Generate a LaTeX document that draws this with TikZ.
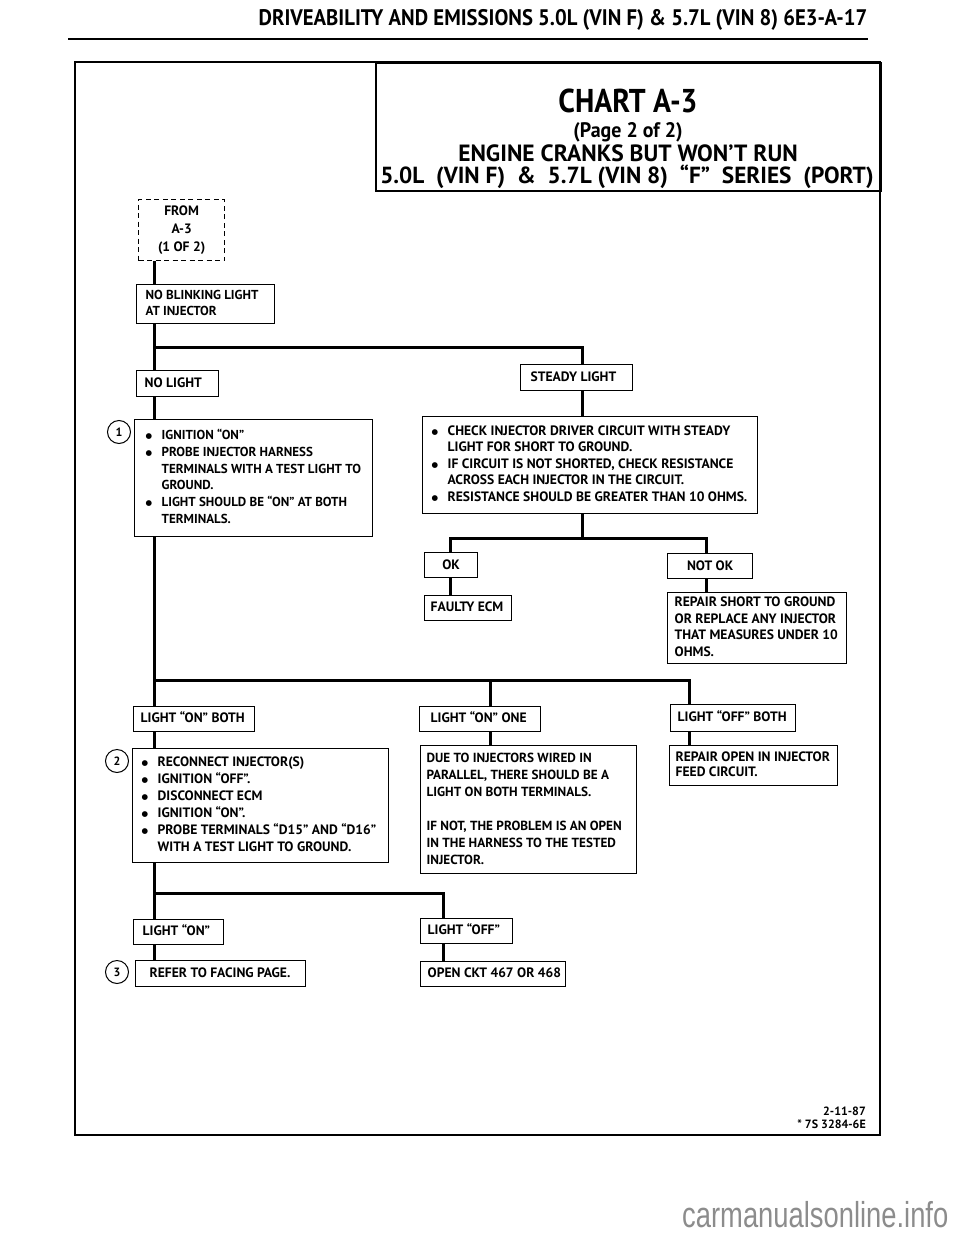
\documentclass[tikz,border=0pt]{standalone}
\usepackage{fontspec}
\setmainfont{PT Sans}
\newfontfamily\boxfam{PT Sans}
\newfontfamily\hdrfam[FakeStretch=0.92]{PT Sans}
\newfontfamily\chartfam[FakeStretch=0.9]{PT Sans}
\newfontfamily\pagefam[FakeStretch=0.95]{PT Sans}
\newfontfamily\dejav{DejaVu Sans}
\newfontfamily\wmfam[FakeStretch=0.76]{Liberation Sans}
\usetikzlibrary{calc}
\newcommand\bul{\makebox[16pt][l]{\raisebox{0.8pt}{\dejav\fontsize{7.5}{7.5}\selectfont ●}}}
\newcommand\ind{\hspace*{16pt}}
\newcommand\BX[3]{\makebox[#2pt][l]{\hspace*{#1pt}\begin{tabular}{@{}l@{}}#3\end{tabular}}}
\tikzset{
  box/.style={draw, line width=1.3pt, inner sep=0pt, anchor=north west,
    font=\boxfam\bfseries\fontsize{13.6}{17}\selectfont},
  dbox/.style={box, dash pattern=on 5pt off 3.5pt},
  conn/.style={line width=3pt, line join=miter},
  num/.style={circle, draw, line width=1pt, minimum size=23pt, inner sep=0pt,
    font=\boxfam\bfseries\fontsize{12}{12}\selectfont},
  ttl/.style={inner sep=0pt}
}
\begin{document}
\begin{tikzpicture}[x=1pt,y=-1pt]
\useasboundingbox (0,0) rectangle (960,1242);
% header
\node[ttl, font=\hdrfam\bfseries\fontsize{22.5}{23}\selectfont] (hdr) at (563,20) {DRIVEABILITY AND EMISSIONS 5.0L (VIN F) \& 5.7L (VIN 8) 6E3-A-17};
\draw[line width=2.5pt] (68,39) -- (868,39);
% frame
\draw[line width=2pt] (75,62) rectangle (880,1135);
\node[draw, line width=2pt, anchor=north west, minimum width=505pt, minimum height=128pt, inner sep=0pt] (tbox) at (375,62) {};
\node[ttl, font=\chartfam\bfseries\fontsize{33}{34}\selectfont] (t1) at (628,101) {CHART A-3};
\node[ttl, font=\pagefam\bfseries\fontsize{21}{22}\selectfont] (t2) at (628,132) {(Page 2 of 2)};
\node[ttl, font=\boxfam\bfseries\fontsize{23.5}{24}\selectfont] (t3) at (628,153) {ENGINE CRANKS BUT WON’T RUN};
\node[ttl, font=\boxfam\bfseries\fontsize{23.3}{24}\selectfont] (t4) at (627,177) {5.0L\ \ (VIN F)\ \ \&\ \ 5.7L (VIN 8)\ \ “F”\ \ SERIES\ \ (PORT)};
% boxes
\node[dbox, minimum height=61pt] (from) at (138,199) {\makebox[86pt]{\begin{tabular}{@{}c@{}}FROM\\[1pt]A-3\\[1pt](1 OF 2)\end{tabular}}};
\node[box, minimum height=39pt, font=\boxfam\bfseries\fontsize{13}{15.5}\selectfont] (noblink) at (136,284) {\BX{9}{138}{NO BLINKING LIGHT\\AT INJECTOR}};
\node[box, minimum height=26pt] (nolight) at (136,370) {\BX{8}{82}{NO LIGHT}};
\node[box, minimum height=26pt] (steady) at (520,364) {\BX{10}{112}{STEADY LIGHT}};
\node[box, minimum height=117pt, font=\boxfam\bfseries\fontsize{13}{16.8}\selectfont] (step1) at (134,419) {\BX{11}{238}{\bul IGNITION “ON”\\ \bul PROBE INJECTOR HARNESS\\ \ind TERMINALS WITH A TEST LIGHT TO\\ \ind GROUND.\\ \bul LIGHT SHOULD BE “ON” AT BOTH\\ \ind TERMINALS.}};
\node[box, minimum height=97pt, font=\boxfam\bfseries\fontsize{13.6}{16.5}\selectfont] (check) at (422,416) {\BX{9}{335}{\bul CHECK INJECTOR DRIVER CIRCUIT WITH STEADY\\ \ind LIGHT FOR SHORT TO GROUND.\\ \bul IF CIRCUIT IS NOT SHORTED, CHECK RESISTANCE\\ \ind ACROSS EACH INJECTOR IN THE CIRCUIT.\\ \bul RESISTANCE SHOULD BE GREATER THAN 10 OHMS.}};
\node[box, minimum height=25pt] (ok) at (424,552) {\makebox[53pt]{OK}};
\node[box, minimum height=25pt] (notok) at (667,553) {\makebox[85pt]{NOT OK}};
\node[box, minimum height=25pt] (faulty) at (424,595) {\BX{6}{87}{FAULTY ECM}};
\node[box, minimum height=71pt, font=\boxfam\bfseries\fontsize{13.6}{16.8}\selectfont] (repshort) at (667,592) {\BX{7}{179}{REPAIR SHORT TO GROUND\\OR REPLACE ANY INJECTOR\\THAT MEASURES UNDER 10\\OHMS.}};
\node[box, minimum height=25pt] (onboth) at (133,706) {\BX{7}{121}{LIGHT “ON” BOTH}};
\node[box, minimum height=25pt] (onone) at (419,706) {\BX{11}{121}{LIGHT “ON” ONE}};
\node[box, minimum height=27pt] (offboth) at (670,704) {\BX{7}{125}{LIGHT “OFF” BOTH}};
\node[box, minimum height=114pt] (step2) at (132,748) {\BX{9}{256}{\bul RECONNECT INJECTOR(S)\\ \bul IGNITION “OFF”.\\ \bul DISCONNECT ECM\\ \bul IGNITION “ON”.\\ \bul PROBE TERMINALS “D15” AND “D16”\\ \ind WITH A TEST LIGHT TO GROUND.}};
\node[box, minimum height=128pt, font=\boxfam\bfseries\fontsize{13.2}{17}\selectfont] (dueto) at (420,745) {\BX{6}{216}{DUE TO INJECTORS WIRED IN\\PARALLEL, THERE SHOULD BE A\\LIGHT ON BOTH TERMINALS.\\ \\IF NOT, THE PROBLEM IS AN OPEN\\IN THE HARNESS TO THE TESTED\\INJECTOR.}};
\node[box, minimum height=40pt, font=\boxfam\bfseries\fontsize{13.6}{15.5}\selectfont] (repopen) at (669,745) {\BX{6}{168}{REPAIR OPEN IN INJECTOR\\FEED CIRCUIT.}};
\node[box, minimum height=25pt] (lighton) at (133,919) {\BX{9}{90}{LIGHT “ON”}};
\node[box, minimum height=25pt] (lightoff) at (420,918) {\BX{7}{92}{LIGHT “OFF”}};
\node[box, minimum height=26pt] (refer) at (135,960) {\BX{14}{170}{REFER TO FACING PAGE.}};
\node[box, minimum height=25pt] (openckt) at (420,961) {\BX{7}{145}{OPEN CKT 467 OR 468}};
% numbered circles
\node[num] (n1) at (119,432) {1};
\node[num] (n2) at (117,761) {2};
\node[num] (n3) at (117,972) {3};
% connector coordinates
\coordinate (tx) at (154,0);
\coordinate (sx) at (582,0);
\coordinate (ox) at (450,0);
\coordinate (nx) at (706,0);
\coordinate (mx) at (490,0);
\coordinate (fx) at (689,0);
\coordinate (lx) at (443,0);
\coordinate (j1) at (154,347);
\coordinate (j2) at (582,538);
\coordinate (j3) at (154,680);
\coordinate (j4) at (154,893);
% connectors
\draw[conn] (from.south -| tx) -- (noblink.north -| tx);
\draw[conn] (noblink.south -| tx) -- (nolight.north -| tx);
\draw[conn] (j1) -- (sx |- j1) -- (steady.north -| sx);
\draw[conn] (nolight.south -| tx) -- (step1.north -| tx);
\draw[conn] (steady.south -| sx) -- (check.north -| sx);
\draw[conn] (check.south -| sx) -- (j2);
\draw[conn] (ok.north -| ox) -- (ox |- j2) -- (nx |- j2) -- (notok.north -| nx);
\draw[conn] (ok.south -| ox) -- (faulty.north -| ox);
\draw[conn] (notok.south -| nx) -- (repshort.north -| nx);
\draw[conn] (step1.south -| tx) -- (onboth.north -| tx);
\draw[conn] (j3) -- (fx |- j3) -- (offboth.north -| fx);
\draw[conn] (mx |- j3) -- (onone.north -| mx);
\draw[conn] (onone.south -| mx) -- (dueto.north -| mx);
\draw[conn] (offboth.south -| fx) -- (repopen.north -| fx);
\draw[conn] (onboth.south -| tx) -- (step2.north -| tx);
\draw[conn] (step2.south -| tx) -- (lighton.north -| tx);
\draw[conn] (j4) -- (lx |- j4) -- (lightoff.north -| lx);
\draw[conn] (lighton.south -| tx) -- (refer.north -| tx);
\draw[conn] (lightoff.south -| lx) -- (openckt.north -| lx);
% footer
\node[inner sep=0pt, anchor=base east, font=\boxfam\bfseries\fontsize{12}{12}\selectfont] (date) at (866,1115) {2-11-87};
\node[inner sep=0pt, anchor=base east, font=\boxfam\bfseries\fontsize{12}{12}\selectfont] (code) at (866,1128) {* 7S 3284-6E};
\node[inner sep=0pt, anchor=base west, text=black!45, font=\wmfam\fontsize{36}{36}\selectfont] (wm) at (682,1227) {carmanualsonline.info};
\end{tikzpicture}
\end{document}
